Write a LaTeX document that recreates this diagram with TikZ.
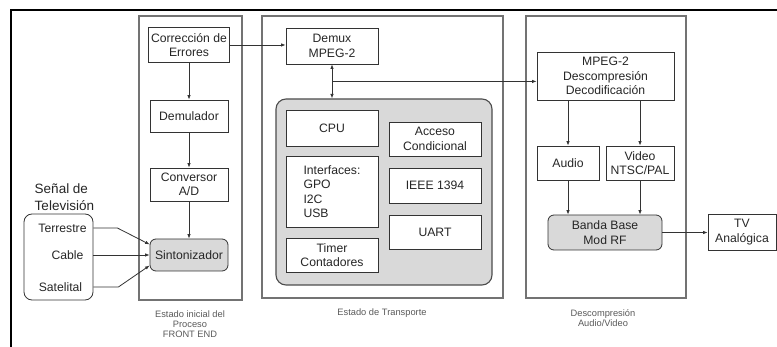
\documentclass[tikz,border=0pt]{standalone}
\usepackage{fontspec}
\setmainfont{Liberation Sans}
\usetikzlibrary{calc,arrows.meta}

\begin{document}
\begin{tikzpicture}[x=1pt,y=-1pt,line width=0.8pt,draw=black!80,
        >={Latex[length=4.5pt,width=3.5pt]},
        caja/.style n args={2}{draw=black!80, minimum width=#1pt, minimum height=#2pt,
            align=center, inner sep=1pt, text=black!85, font=\fontsize{12.2}{14.5}\selectfont},
        gris/.style={fill=black!15, rounded corners=6pt},
        etapa/.style n args={2}{draw=black!55, line width=1.1pt, minimum width=#1pt, minimum height=#2pt},
        nota/.style={align=center, text=black!65, font=\fontsize{9.3}{10}\selectfont}]
        \useasboundingbox (0,0) rectangle (777,347);
        \draw[black, line width=1.3pt] (11,347) -- (11,10) -- (777,10);

        % etapas
        \node[etapa={103}{284}](frontend) at (190.5,158) {};
        \node[etapa={241}{282}](transporte) at (382.5,157) {};
        \node[etapa={160}{282}](descomp) at (606,157) {};

        % front end
        \node[caja={81}{35}](correccion) at (189,45) {Corrección de\\Errores};
        \node[caja={78}{32}](demulador) at (189,116) {Demulador};
        \node[caja={78}{33}](conversor) at (189,184.5) {Conversor\\A/D};
        \node[caja={78}{32},gris](sintonizador) at (189,255) {Sintonizador};

        \node[anchor=west, align=left, text=black!85, font=\fontsize{13.5}{17}\selectfont](senal) at (31,197) {Señal de\\Televisión};
        \node[draw=black!80, rounded corners=8pt, minimum width=69pt, minimum height=86pt](fuentes) at (58.5,257) {};
        \node[text=black!85, font=\fontsize{12.2}{14.5}\selectfont](terrestre) at (62.5,228) {Terrestre};
        \node[text=black!85, font=\fontsize{12.2}{14.5}\selectfont](cable) at (67.5,255) {Cable};
        \node[text=black!85, font=\fontsize{12.2}{14.5}\selectfont](satelital) at (60.5,287) {Satelital};

        \draw[->] (terrestre.east -| fuentes.east) -- ++(24,0) -- (sintonizador.165);
        \draw[->] (cable.east -| fuentes.east) -- (sintonizador.west);
        \draw[->] (satelital.east -| fuentes.east) -- ++(25,0) -- (sintonizador.195);

        \draw[->] (correccion) -- (demulador);
        \draw[->] (demulador) -- (conversor);
        \draw[->] (conversor) -- (sintonizador);

        % transporte
        \node[caja={92}{36}](demux) at (332,46) {Demux\\MPEG-2};
        \node[draw=black!70, fill=black!15, line width=1.1pt, rounded corners=10pt,
            minimum width=216pt, minimum height=186pt](nucleo) at (384,192) {};
        \node[caja={92}{36}, fill=white](cpu) at (332,128) {CPU};
        \node[caja={92}{71}, fill=white, align=left](interfaces) at (332,191.5) {Interfaces:\\GPO\\I2C\\USB};
        \node[caja={92}{34}, fill=white](timer) at (332,255) {Timer\\Contadores};
        \node[caja={92}{34}, fill=white](acceso) at (435,139) {Acceso\\Condicional};
        \node[caja={92}{35}, fill=white](ieee) at (435,185.5) {IEEE 1394};
        \node[caja={92}{34}, fill=white](uart) at (435,232) {UART};

        \draw[->] (correccion.east) -- (correccion.east -| demux.west);
        \draw[<->] (demux.south) -- (demux.south |- nucleo.north);
        \coordinate (bus) at ($(demux.south)!.5!(demux.south |- nucleo.north)$);

        % descompresion
        \node[caja={137}{48}](mpeg) at (605.5,76) {MPEG-2\\Descompresión\\Decodificación};
        \node[caja={62}{34}](audio) at (568,163) {Audio};
        \node[caja={68}{34}](video) at (640,163) {Video\\NTSC/PAL};
        \node[caja={114}{35},gris](banda) at (605,232.5) {Banda Base\\Mod RF};
        \node[caja={68}{36}](tv) at (742,232) {TV\\Analógica};

        \draw[->] (bus) -- (bus -| mpeg.west);
        \draw[->] (audio.north |- mpeg.south) -- (audio.north);
        \draw[->] (video.north |- mpeg.south) -- (video.north);
        \draw[->] (audio.south) -- (audio.south |- banda.north);
        \draw[->] (video.south) -- (video.south |- banda.north);
        \draw[->] (banda.east) -- (banda.east -| tv.west);

        \node[nota](notafrontend) at (190,324) {Estado inicial del\\Proceso\\FRONT END};
        \node[nota](notatransporte) at (382,313) {Estado de Transporte};
        \node[nota](notadescomp) at (603,318.5) {Descompresión\\Audio/Video};
    \end{tikzpicture}
\end{document}
